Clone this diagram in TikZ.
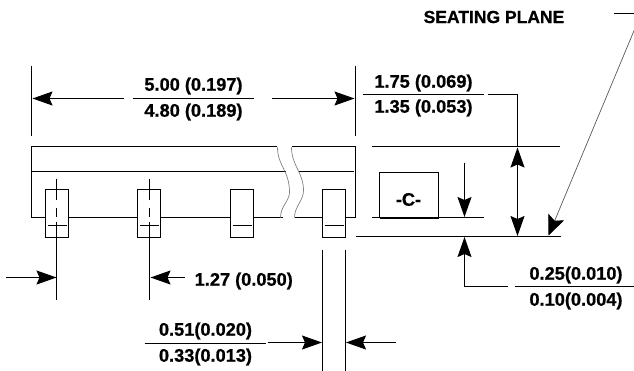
\documentclass[tikz,border=0pt]{standalone}
\usepackage{fontspec}
\setmainfont[BoldFeatures={FakeBold=0.8}]{Liberation Sans}
\usetikzlibrary{arrows.meta}
\usetikzlibrary{positioning}
\tikzset{
  dimtext/.style={font=\fontsize{18.2}{20}\selectfont\bfseries, inner sep=0pt},
  outline/.style={line width=1.1pt},
  breakline/.style={line width=0.7pt, gray},
  dimarrow/.style={line width=1.1pt, -{Stealth[length=20pt,width=14pt,inset=3pt]}},
  leader/.style={line width=0.7pt, gray!70!black, -{Stealth[length=20pt,width=17pt,inset=4pt,black]}},
}
\begin{document}
\begin{tikzpicture}[x=1pt,y=-1pt]
  \useasboundingbox (-.5,-.5) rectangle (633.5,369.5);

  % body of the package
  \draw[outline] (276,146) -- (31,146) -- (31,217) -- (45,217);
  \draw[outline] (31,171) -- (285,171);
  \draw[outline] (291,146) -- (355,146) -- (355,217) -- (345,217);
  \draw[outline] (298,171) -- (353,171);
  \draw[outline] (68,217) -- (137,217) (160,217) -- (230,217) (253,217) -- (282,217) (294,217) -- (322,217);
  \draw[breakline] (277,147) .. controls (277,165) and (289,170) .. (289,192) .. controls (289,200) and (280,206) .. (280,217);
  \draw[breakline] (291,147) .. controls (291,165) and (303,172) .. (303,190) .. controls (303,200) and (294,206) .. (294,217);

  % leads
  \foreach \leadx in {45,137,230,322}{
    \draw[outline] (\leadx,189) rectangle (\leadx+23,237);
    \draw[outline] (\leadx+2,225) -- (\leadx+21,225);
  }

  % centre lines of the first two leads
  \foreach \leadx in {56,149}{
    \draw[outline] (\leadx,178) -- (\leadx,199);
    \draw[outline] (\leadx,207) -- (\leadx,216);
    \draw[outline] (\leadx,221) -- (\leadx,299);
  }

  % reference block
  \node[inner sep=0pt, minimum width=59pt, minimum height=45pt, anchor=north west] (block) at (379,172) {};
  \node[dimtext] (blocklabel) at (408,199) {-C-};
  \draw[outline] (block.south west) -- (block.north west) -- (block.north east) -- (block.south east);
  \draw[line width=1.8pt] (block.south west) -- (block.south east);

  % extension lines on the right
  \coordinate (topleft) at (371,146);
  \coordinate (topright) at (559,146);
  \coordinate (blockleft) at (371,217);
  \coordinate (blockright) at (483,217);
  \coordinate (seatleft) at (355,236);
  \coordinate (seatright) at (560,236);
  \draw[outline] (topleft) -- (topright);
  \draw[outline] (blockleft) -- (blockright);
  \draw[outline] (seatleft) -- (seatright);

  % overall length
  \node[dimtext] (lenmax) at (193,85.5) {5.00 (0.197)};
  \node[dimtext] (lenmin) at (193,111.5) {4.80 (0.189)};
  \coordinate (lenbarl) at (132,98);
  \coordinate (lenbarr) at (253,98);
  \draw[outline] (lenbarl) -- (lenbarr);
  \draw[outline] (31,65) -- (31,135);
  \draw[outline] (355,65) -- (355,135);
  \draw[dimarrow] (123,98) -- (32,98);
  \draw[dimarrow] (271,98) -- (354,98);

  % height
  \node[dimtext] (hmax) at (423,82.5) {1.75 (0.069)};
  \node[dimtext] (hmin) at (423,107.5) {1.35 (0.053)};
  \coordinate (hbarl) at (362,94);
  \coordinate (hbarr) at (483,94);
  \draw[outline] (hbarl) -- (hbarr);
  \draw[outline] (487,94) -- (517,94) -- (517,146);
  \draw[outline, {Stealth[length=20pt,width=14pt,inset=3pt]}-{Stealth[length=20pt,width=14pt,inset=3pt]}] (517,147) -- (517,235.5);

  % standoff
  \node[dimtext] (smax) at (575.5,274.5) {0.25(0.010)};
  \node[dimtext] (smin) at (575.5,300.5) {0.10(0.004)};
  \coordinate (sbarl) at (514,286);
  \coordinate (sbarr) at (634,286);
  \draw[outline] (sbarl) -- (sbarr);
  \draw[dimarrow] (464,162) -- (464,216.5);
  \draw[dimarrow] (507,286) -- (464,286) -- (464,236.5);

  % seating plane
  \node[dimtext, anchor=east, font=\fontsize{17.5}{20}\selectfont\bfseries] (seat) at (564,16.5) {SEATING PLANE};
  \coordinate (seatend) at (613,13);
  \coordinate (seatedge) at (634,13);
  \draw[outline] (seatend) -- (seatedge);
  \draw[leader] (634,29) -- (548,235);

  % lead pitch
  \node[dimtext, anchor=west] (pitch) at (194,280.5) {1.27 (0.050)};
  \draw[dimarrow] (6,277) -- (56,277);
  \draw[dimarrow] (184,277) -- (150,277);

  % lead width
  \node[dimtext] (wmax) at (205,330.5) {0.51(0.020)};
  \node[dimtext] (wmin) at (205,356.5) {0.33(0.013)};
  \coordinate (wbarl) at (144,343);
  \coordinate (wbarr) at (265,343);
  \draw[outline] (wbarl) -- (wbarr);
  \draw[outline] (322,249) -- (322,370);
  \draw[outline] (345,249) -- (345,370);
  \draw[dimarrow] (267,342) -- (321.5,342);
  \draw[dimarrow] (395,342) -- (345.5,342);
\end{tikzpicture}
\end{document}
